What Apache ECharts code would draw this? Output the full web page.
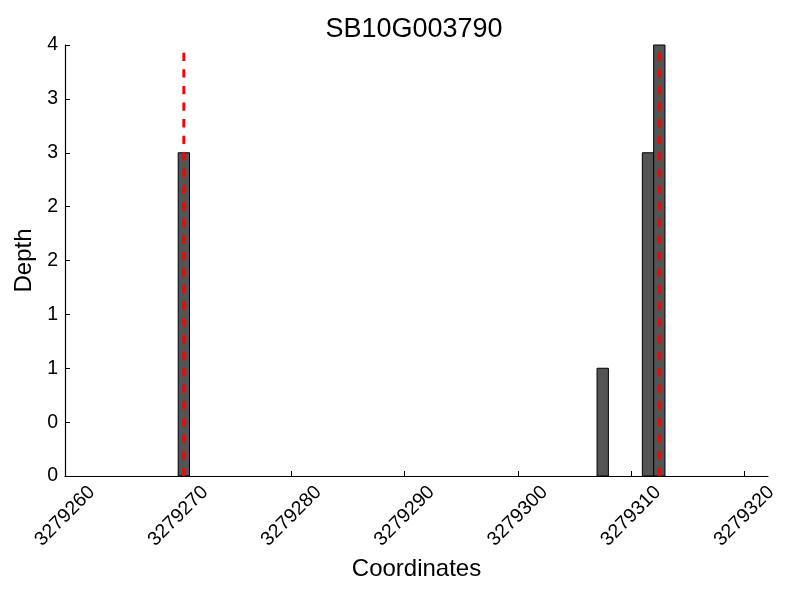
<!DOCTYPE html>
<html>
<head>
<meta charset="utf-8">
<script src="https://cdn.jsdelivr.net/npm/echarts@6/dist/echarts.min.js"></script>
<style>html,body{margin:0;padding:0;background:#fff}#c{width:800px;height:600px}</style>
</head>
<body>
<div id="c"></div>
<script>
// Data
const titleText = 'SB10G003790';
const binStarts = [3279270, 3279307, 3279311, 3279312];
const depths = [3, 1, 3, 4];
const binWidth = 1;
const markerPositions = [3279270.5, 3279312.5];
const xTicks = [3279260, 3279270, 3279280, 3279290, 3279300, 3279310, 3279320];
const yTicks = [0, 0.5, 1, 1.5, 2, 2.5, 3, 3.5, 4];
const xMin = 3279260, xMax = 3279322.1;
const yMin = 0, yMax = 4;

const FONT = 'Liberation Sans';
const chart = echarts.init(document.getElementById('c'), null, {renderer: 'canvas'});

const barData = binStarts.map((s, i) => [s, depths[i]]);

const series = [{
  type: 'custom',
  renderItem: function (params, api) {
    const x0 = api.value(0), h = api.value(1);
    const p0 = api.coord([x0, h]);
    const p1 = api.coord([x0 + binWidth, 0]);
    return {
      type: 'rect',
      shape: {x: p0[0], y: p0[1], width: p1[0] - p0[0], height: p1[1] - p0[1]},
      style: {fill: '#545454', stroke: '#000', lineWidth: 1}
    };
  },
  encode: {x: 0, y: 1},
  data: barData,
  z: 2
}];
markerPositions.forEach(m => {
  series.push({
    type: 'line',
    data: [[m, yMin], [m, yMax]],
    symbol: 'none',
    lineStyle: {color: '#ff0000', width: 3, type: [8.3, 8.3], cap: 'butt'},
    z: 5,
    silent: true
  });
});

chart.setOption({
  animation: false,
  backgroundColor: '#fff',
  title: {
    text: titleText,
    left: 409, top: 11, textAlign: 'center',
    textStyle: {fontFamily: FONT, fontSize: 27, fontWeight: 'normal', color: '#000'}
  },
  grid: {left: 65, right: 32, top: 45, bottom: 124, containLabel: false},
  xAxis: {
    type: 'value', min: xMin, max: xMax,
    name: 'Coordinates', nameLocation: 'middle', nameGap: 80,
    nameTextStyle: {fontFamily: FONT, fontSize: 24, color: '#000'},
    axisLine: {show: true, lineStyle: {color: '#000', width: 1.2}},
    axisTick: {show: true, inside: true, length: 5, lineStyle: {color: '#000'}, customValues: xTicks},
    axisLabel: {
      customValues: xTicks, rotate: 45, align: 'center', verticalAlign: 'middle', margin: 40,
      fontFamily: FONT, fontSize: 19.5, color: '#000',
      formatter: v => String(Math.round(v))
    },
    splitLine: {show: false}
  },
  yAxis: {
    type: 'value', min: yMin, max: yMax, interval: 0.5,
    name: 'Depth', nameLocation: 'middle', nameGap: 25,
    nameTextStyle: {fontFamily: FONT, fontSize: 24, color: '#000'},
    axisLine: {show: true, lineStyle: {color: '#000', width: 1.2}},
    axisTick: {show: true, inside: true, length: 5, lineStyle: {color: '#000'}},
    axisLabel: {
      margin: 7, fontFamily: FONT, fontSize: 19.5, color: '#000',
      formatter: v => String(Math.floor(v))
    },
    splitLine: {show: false}
  },
  series: series
});
</script>
</body>
</html>
